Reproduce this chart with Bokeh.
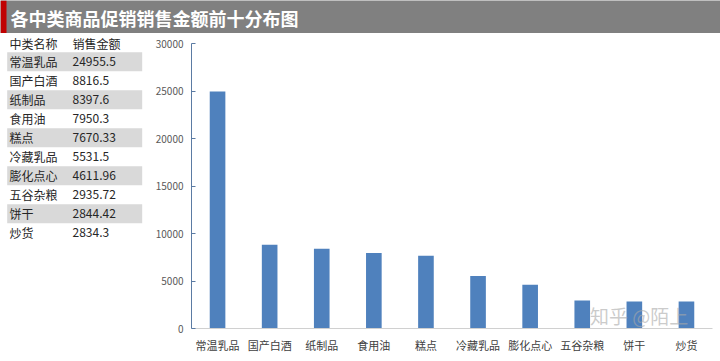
from bokeh.plotting import figure
from bokeh.layouts import column, row
from bokeh.models import Range1d, Label, FixedTicker, ColumnDataSource
from bokeh.core.properties import value
from bokeh.embed import file_html
from bokeh.resources import INLINE

title_text = "各中类商品促销销售金额前十分布图"
header = ["中类名称", "销售金额"]
categories = ["常温乳品", "国产白酒", "纸制品", "食用油", "糕点", "冷藏乳品", "膨化点心", "五谷杂粮", "饼干", "炒货"]
amounts = [24955.5, 8816.5, 8397.6, 7950.3, 7670.33, 5531.5, 4611.96, 2935.72, 2844.42, 2834.3]
amount_labels = ["24955.5", "8816.5", "8397.6", "7950.3", "7670.33", "5531.5", "4611.96", "2935.72", "2844.42", "2834.3"]
y_ticks = [0, 5000, 10000, 15000, 20000, 25000, 30000]
y_max = 30000

FONT = "Noto Sans CJK SC"
W, H = 720, 361
TITLE_H = 33
TW = 150
ROW_H = H - TITLE_H
BOTTOM = 33          # space below plot frame for category labels
TOP_PX = 43          # page y of the 30000 tick
FRAME_BOTTOM = H - BOTTOM

# ---- title bar ----
tp = figure(width=W, height=TITLE_H, x_range=Range1d(0, W), y_range=Range1d(TITLE_H, 0),
            output_backend="svg", toolbar_location=None, min_border=0)
tp.axis.visible = False
tp.grid.visible = False
tp.outline_line_color = None
tp.background_fill_color = "#808080"
tp.border_fill_color = "#808080"
tp.quad(left=[0], right=[6], top=[0], bottom=[TITLE_H], fill_color="#c00000", line_color=None)
tp.text(x=[10], y=[17], text=[title_text], text_color="white", text_font=value(FONT),
        text_font_size="18px", text_font_style="bold", text_baseline="middle", text_align="left")

# ---- table (page coordinates) ----
tb = figure(width=TW, height=ROW_H, x_range=Range1d(0, TW), y_range=Range1d(FRAME_BOTTOM, TITLE_H),
            output_backend="svg", toolbar_location=None,
            min_border_left=0, min_border_right=0, min_border_top=0, min_border_bottom=BOTTOM)
tb.axis.visible = False
tb.grid.visible = False
tb.outline_line_color = None
pitch = 19
hy = 42.7
y0 = 61.2
tb.text(x=[9, 72], y=[hy, hy], text=header, text_color="#262626", text_font=value(FONT),
        text_font_size="12px", text_baseline="middle")
ys = [y0 + pitch * i for i in range(len(categories))]
gray_ys = [ys[i] for i in range(0, len(categories), 2)]
tb.quad(left=6.7, right=141.7, top=[y - pitch / 2 for y in gray_ys], bottom=[y + pitch / 2 for y in gray_ys],
        fill_color="#d9d9d9", line_color=None)
tb.text(x=[9] * len(categories), y=ys, text=categories, text_color="#262626", text_font=value(FONT),
        text_font_size="12px", text_baseline="middle")
tb.text(x=[72] * len(categories), y=ys, text=amount_labels, text_color="#262626", text_font=value(FONT),
        text_font_size="12px", text_baseline="middle")

# ---- bar chart ----
CW = W - TW
frame_h = FRAME_BOTTOM - TITLE_H
y_end = y_max * frame_h / (FRAME_BOTTOM - TOP_PX)
p = figure(width=CW, height=ROW_H, x_range=categories, y_range=Range1d(0, y_end),
           output_backend="svg", toolbar_location=None,
           min_border_left=191 - TW, min_border_right=8, min_border_top=0, min_border_bottom=BOTTOM)
p.outline_line_color = None
p.grid.visible = False
src = ColumnDataSource(dict(cat=categories, amt=amounts))
p.vbar(x="cat", top="amt", width=0.3, source=src, fill_color="#4f81bd", line_color=None)
p.x_range.range_padding = 0

p.yaxis.ticker = FixedTicker(ticks=y_ticks)
p.yaxis.bounds = (0, y_max)
p.yaxis.axis_line_color = "#5b7ba3"
p.yaxis.major_tick_line_color = "#5b7ba3"
p.yaxis.major_tick_in = 4
p.yaxis.major_tick_out = 0
p.yaxis.minor_tick_line_color = None
p.yaxis.major_label_text_font = FONT
p.yaxis.major_label_text_font_size = "10px"
p.yaxis.major_label_text_color = "#595959"
p.yaxis.major_label_standoff = 8

p.xaxis.axis_line_color = "#d0d0d0"
p.xaxis.major_tick_line_color = None
p.xaxis.minor_tick_line_color = None
p.xaxis.major_label_text_font = FONT
p.xaxis.major_label_text_font_size = "11px"
p.xaxis.major_label_text_color = "#404040"
p.xaxis.major_label_standoff = 2

wm = Label(x=7.65, y=0, text="知乎 @陌上", text_font=FONT, text_font_size="19px",
           text_color="#a8a8a8", text_alpha=0.6, text_baseline="bottom", text_align="left")
p.add_layout(wm)

layout = column(tp, row(tb, p, spacing=0), spacing=0)
open("out.html", "w").write(file_html(layout, INLINE))
